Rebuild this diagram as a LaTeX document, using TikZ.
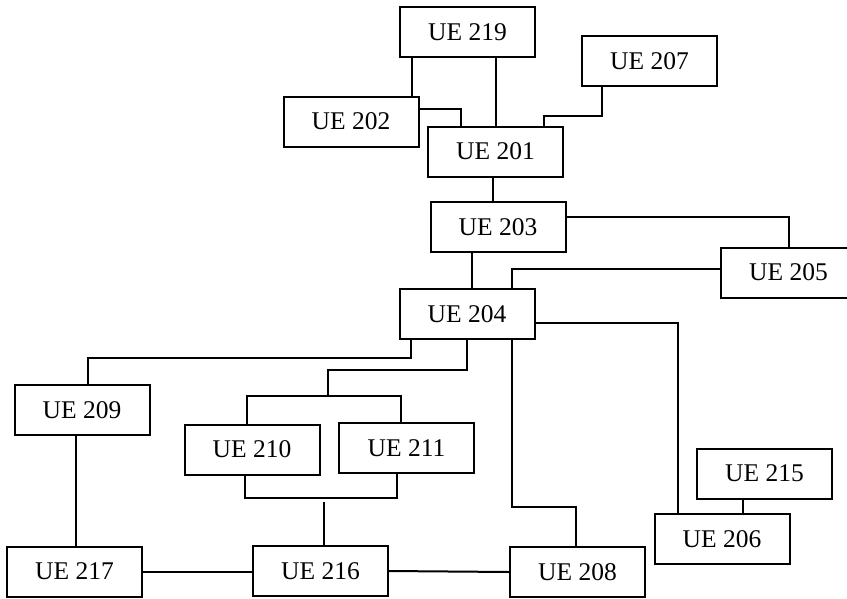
\documentclass[tikz,border=0pt]{standalone}
\usepackage{fontspec}
\setmainfont{Liberation Serif}
\tikzset{
  ue/.style={draw, line width=2pt, minimum width=135pt, minimum height=50pt, inner sep=0pt, font=\fontsize{25.5}{30}\selectfont},
  link/.style={line width=2pt}
}
\begin{document}
\begin{tikzpicture}[x=1pt,y=1pt,yscale=-1,xscale=1]
\useasboundingbox (0,0) rectangle (847,598);

% Boxes
\node [ue] (n219) at (467.5,32) {UE 219};
\node [ue] (n207) at (649.5,61) {UE 207};
\node [ue] (n202) at (351,121.5) {UE 202};
\node [ue] (n201) at (495.5,151.5) {UE 201};
\node [ue] (n203) at (498,227) {UE 203};
\node [ue] (n205) at (788.5,272.5) {UE 205};
\node [ue] (n204) at (467,314) {UE 204};
\node [ue] (n209) at (82,410) {UE 209};
\node [ue] (n210) at (252,449.5) {UE 210};
\node [ue] (n211) at (406.5,448) {UE 211};
\node [ue] (n215) at (764.5,473.5) {UE 215};
\node [ue] (n206) at (722,539) {UE 206};
\node [ue] (n217) at (74.5,571.5) {UE 217};
\node [ue] (n216) at (320.5,571) {UE 216};
\node [ue] (n208) at (577.5,572) {UE 208};

% Bend points
\coordinate (top1011) at (328,396);
\coordinate (bot1011) at (324,498);

% Top group (yshift runs upward here, as yscale=-1)
\draw [link] ([xshift=-56pt]n219.south) -- ([xshift=-56pt]n219.south |- n202.north);
\draw [link] (n201.north) -- (n201.north |- n219.south);
\draw [link] ([yshift=-12.5pt]n202.east) -| ([xshift=-34.5pt]n201.north);
\draw [link] ([xshift=-47.5pt]n207.south) |- ([xshift=48.5pt,yshift=-10pt]n201.north) -- ([xshift=48.5pt]n201.north);
\draw [link] ([xshift=-2.5pt]n201.south) -- ([xshift=-2.5pt]n201.south |- n203.north);

% Middle
\draw [link] ([yshift=-10pt]n203.east) -| ([xshift=0.5pt]n205.north);
\draw [link] ([yshift=-3.5pt]n205.west) -| ([xshift=45pt]n204.north);
\draw [link] ([xshift=5pt]n204.north) -- ([xshift=5pt]n204.north |- n203.south);
\draw [link] ([yshift=9pt]n204.east) -| ([xshift=-44pt]n206.north);
\draw [link] ([xshift=45pt]n204.south) |- ([xshift=-1.5pt,yshift=-39pt]n208.north) -- ([xshift=-1.5pt]n208.north);
\draw [link] ([xshift=-56pt]n204.south) |- ([xshift=6pt,yshift=-26pt]n209.north) -- ([xshift=6pt]n209.north);
\draw [link] (n204.south) |- ([yshift=-26pt]top1011) -- (top1011);
\draw [link] ([xshift=-5pt]n210.north) |- ([xshift=-5.5pt]n211.north |- top1011) -- ([xshift=-5.5pt]n211.north);

% Bottom
\draw [link] ([xshift=-7pt]n210.south) |- (bot1011) -| ([xshift=-9.5pt]n211.south);
\draw [link] ([yshift=4pt]bot1011) -- (bot1011 |- n216.north);
\draw [link] ([xshift=-6pt]n209.south) -- ([xshift=-6pt]n209.south |- n217.north);
\draw [link] (n217.east) -- (n217.east -| n216.west);
\draw [link] (n216.east) -- (n208.west);
\draw [link] ([xshift=-21.5pt]n215.south) -- ([xshift=-21.5pt]n215.south |- n206.north);

\end{tikzpicture}
\end{document}
